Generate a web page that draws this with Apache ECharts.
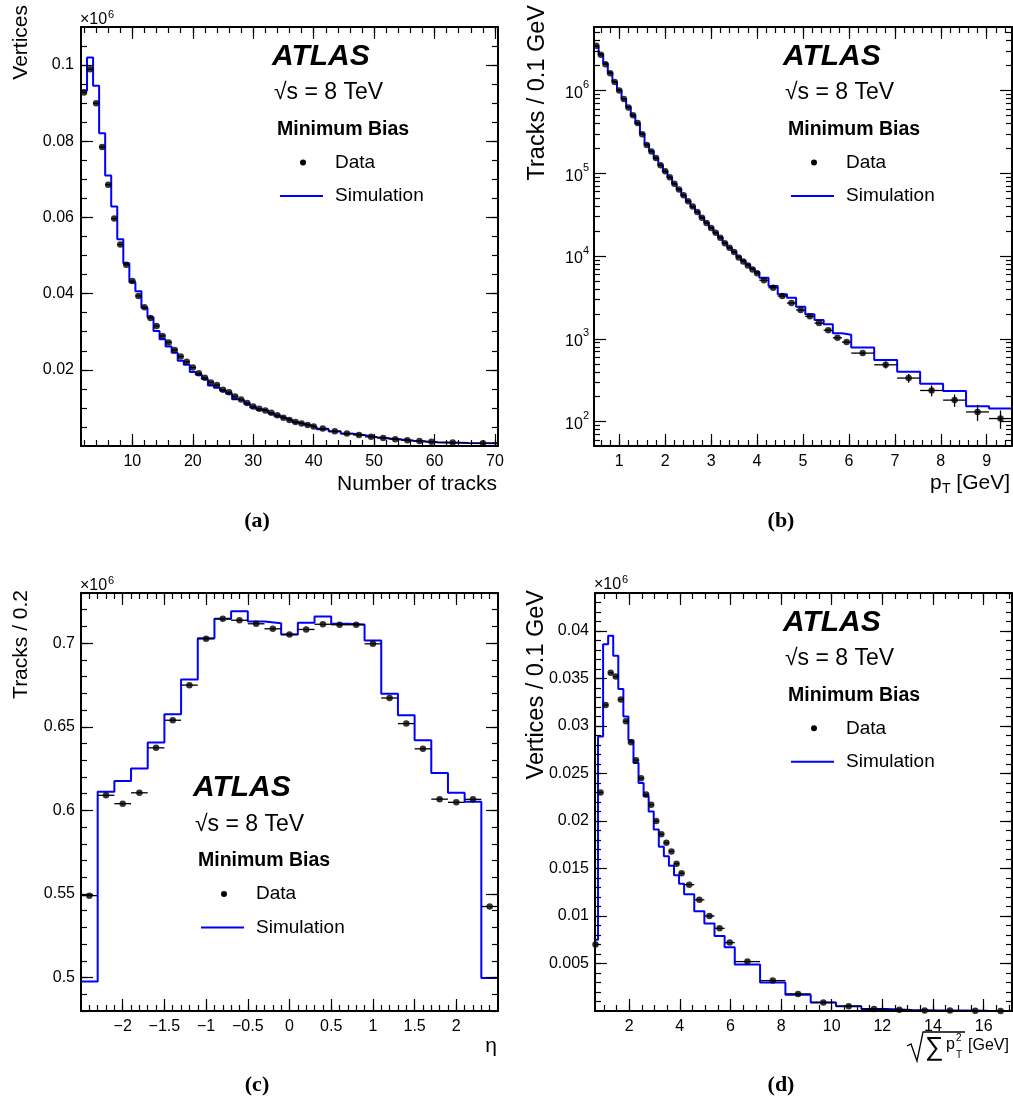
<!DOCTYPE html>
<html><head><meta charset="utf-8">
<script src="https://cdn.jsdelivr.net/npm/echarts@6/dist/echarts.min.js"></script>
<style>html,body{margin:0;padding:0;background:#fff}#c{width:1013px;height:1106px}</style>
</head><body><div id="c"></div>
<script>
// ---------------- Panel (a): number of tracks ----------------
const aEdges = [1.5,2.5,3.5,4.5,5.5,6.5,7.5,8.5,9.5,10.5,11.5,12.5,13.5,14.5,15.5,16.5,17.5,18.5,19.5,20.5,21.5,22.5,23.5,24.5,25.5,26.5,27.5,28.5,29.5,30.5,31.5,32.5,33.5,34.5,35.5,36.5,37.5,38.5,39.5,40.5,42.5,44.5,46.5,48.5,50.5,52.5,54.5,56.5,58.5,60.5,65.5,70.5];
const aData = [0.0928,0.0989,0.0900,0.0785,0.0686,0.0597,0.0529,0.0476,0.0433,0.0394,0.0364,0.0336,0.0315,0.0289,0.0272,0.0252,0.0235,0.0221,0.0206,0.0191,0.0179,0.0167,0.0160,0.0148,0.0141,0.0130,0.0122,0.0113,0.0104,0.0098,0.0093,0.0087,0.0081,0.0074,0.0068,0.0063,0.0059,0.0055,0.0051,0.0046,0.0039,0.0033,0.0029,0.0024,0.0021,0.0018,0.0015,0.0013,0.0011,0.0009,0.0007];
const aSim = [0.0933,0.1020,0.0946,0.0821,0.0710,0.0629,0.0543,0.0480,0.0430,0.0406,0.0363,0.0338,0.0302,0.0280,0.0261,0.0245,0.0224,0.0213,0.0194,0.0187,0.0176,0.0159,0.0153,0.0145,0.0137,0.0123,0.0120,0.0110,0.0101,0.0095,0.0093,0.0085,0.0078,0.0073,0.0068,0.0062,0.0058,0.0054,0.0050,0.0044,0.0038,0.0032,0.0028,0.0023,0.0020,0.0017,0.0014,0.0012,0.0010,0.0008,0.0007];
const aXTicks = [10,20,30,40,50,60,70];
const aYTicks = [0.02,0.04,0.06,0.08,0.1];

// ---------------- Panel (b): pT ----------------
const bEdges = [0.45,0.55,0.65,0.75,0.85,0.95,1.05,1.15,1.25,1.35,1.45,1.55,1.65,1.75,1.85,1.95,2.05,2.15,2.25,2.35,2.45,2.55,2.65,2.75,2.85,2.95,3.05,3.15,3.25,3.35,3.45,3.55,3.65,3.75,3.85,3.95,4.05,4.25,4.45,4.65,4.85,5.05,5.25,5.45,5.65,5.85,6.05,6.55,7.05,7.55,8.05,8.55,9.05,9.55];
const bData = [3.47e6,2.70e6,2.08e6,1.62e6,1.27e6,1.00e6,7.87e5,6.22e5,5.04e5,4.04e5,2.97e5,2.20e5,1.83e5,1.53e5,1.25e5,1.06e5,8.97e4,7.50e4,6.35e4,5.43e4,4.60e4,3.96e4,3.41e4,2.91e4,2.51e4,2.19e4,1.92e4,1.67e4,1.43e4,1.26e4,1.12e4,9.6e3,8.6e3,7.7e3,6.9e3,6.2e3,5.1e3,4.15e3,3.29e3,2.71e3,2.23e3,1.87e3,1.55e3,1.27e3,1.03e3,914,673,486,336,238,182,131,109];
const bSim = [3.45e6,2.75e6,2.12e6,1.65e6,1.28e6,1.01e6,7.9e5,6.3e5,5.0e5,4.0e5,3.0e5,2.22e5,1.84e5,1.52e5,1.25e5,1.05e5,8.9e4,7.5e4,6.4e4,5.4e4,4.6e4,3.95e4,3.4e4,2.92e4,2.52e4,2.2e4,1.92e4,1.68e4,1.44e4,1.27e4,1.13e4,9.8e3,8.8e3,7.9e3,7.1e3,6.4e3,5.48e3,4.35e3,3.47e3,3.14e3,2.44e3,1.98e3,1.69e3,1.50e3,1.17e3,1.12e3,789,555,400,287,234,154,144];
const bRelErr = [0,0,0,0,0,0,0,0,0,0,0,0,0,0,0,0,0,0,0,0,0,0,0,0,0,0,0,0,0,0,0,0,0,0,0,0,0,0,0,0,0,0,0,0,0,0,0.03,0.10,0.12,0.15,0.17,0.22,0.25];
const bXTicks = [1,2,3,4,5,6,7,8,9];
const bYTicks = [1e2,1e3,1e4,1e5,1e6];

// ---------------- Panel (c): eta ----------------
const cEdges = [-2.5,-2.3,-2.1,-1.9,-1.7,-1.5,-1.3,-1.1,-0.9,-0.7,-0.5,-0.3,-0.1,0.1,0.3,0.5,0.7,0.9,1.1,1.3,1.5,1.7,1.9,2.1,2.3,2.5];
const cData = [0.549,0.609,0.604,0.6105,0.6374,0.6539,0.6749,0.7026,0.7146,0.7137,0.7116,0.7086,0.7052,0.7082,0.7113,0.711,0.711,0.6996,0.6672,0.6519,0.6368,0.6067,0.6048,0.6066,0.5425];
const cSim = [0.4977,0.6111,0.6175,0.6250,0.6406,0.6575,0.6783,0.7030,0.7146,0.7191,0.7130,0.7119,0.7052,0.7122,0.7159,0.7116,0.7112,0.7016,0.6698,0.6569,0.6419,0.6224,0.6105,0.6051,0.4997];
const cXTicks = [-2,-1.5,-1,-0.5,0,0.5,1,1.5,2];
const cYTicks = [0.5,0.55,0.6,0.65,0.7];

// ---------------- Panel (d): sqrt(sum pT^2) ----------------
const dEdges = [0.57,0.77,0.97,1.17,1.37,1.57,1.77,1.97,2.17,2.37,2.57,2.77,2.97,3.17,3.37,3.57,3.77,3.97,4.17,4.57,4.97,5.37,5.77,6.17,7.17,8.17,9.17,10.17,11.17,12.17,13.17,14.17,15.17,16.17,17.17];
const dData = [0.0070,0.0230,0.0322,0.0356,0.0352,0.0328,0.0305,0.0283,0.0264,0.0245,0.0228,0.0217,0.0200,0.0186,0.0177,0.0168,0.0155,0.0145,0.0133,0.0117,0.0100,0.0087,0.0072,0.0052,0.0032,0.0018,0.0009,0.0005,0.0002,0.00012,0.00006,0.00004,0.00002,0.00001];
const dSim = [0.0075,0.0289,0.0386,0.0395,0.0374,0.0339,0.0310,0.0285,0.0261,0.0240,0.0226,0.0210,0.0191,0.0173,0.0163,0.0153,0.0143,0.0134,0.0123,0.0105,0.0092,0.0079,0.0067,0.0049,0.0030,0.0017,0.0009,0.0005,0.0002,0.0001,0.00006,0.00004,0.00002,0.00001];
const dXTicks = [2,4,6,8,10,12,14,16];
const dYTicks = [0.005,0.01,0.015,0.02,0.025,0.03,0.035,0.04];

// ---------------- helpers ----------------
const FF = '"Liberation Sans", Arial, Helvetica, sans-serif';
function rng(a, b, s) { const r = []; for (let v = a; v <= b + s * 1e-6; v += s) r.push(Math.round(v * 1e9) / 1e9); return r; }
function logMinor(lo, hi) { const r = []; for (let e = 1; e <= 6; e++) for (let m = 2; m <= 9; m++) { const v = m * Math.pow(10, e); if (v >= lo && v <= hi) r.push(v); } return r; }
const linFmt = v => String(+(+v).toPrecision(6)).replace('-', '\u2212');
const logFmt = v => '{b|10}{e|' + Math.round(Math.log10(v)) + '}';
const logRich = { b: { fontSize: 16, fontFamily: FF, color: '#000', lineHeight: 22, verticalAlign: 'bottom' },
                  e: { fontSize: 11, fontFamily: FF, color: '#000', lineHeight: 22, verticalAlign: 'top' } };

const panels = [
  { edges: aEdges, data: aData, sim: aSim, err: null, xr: [1.5, 70.5], yr: [0, 0.11], yType: 'value',
    xMaj: aXTicks, xMin: rng(2, 70, 2), yMaj: aYTicks, yMin: rng(0.005, 0.105, 0.005), yFmt: linFmt, yMargin: 7,
    grid: { left: 81, top: 27, width: 417, height: 419 } },
  { edges: bEdges, data: bData, sim: bSim, err: bRelErr, xr: [0.45, 9.55], yr: [50.8, 5.85e6], yType: 'log',
    xMaj: bXTicks, xMin: rng(0.6, 9.4, 0.2), yMaj: bYTicks, yMin: logMinor(50.8, 5.85e6), yFmt: logFmt, yRich: logRich, yMargin: 5,
    grid: { left: 594, top: 27, width: 418, height: 419 } },
  { edges: cEdges, data: cData, sim: cSim, err: null, xr: [-2.5, 2.5], yr: [0.48, 0.73], yType: 'value',
    xMaj: cXTicks, xMin: rng(-2.4, 2.4, 0.1), yMaj: cYTicks, yMin: rng(0.48, 0.73, 0.01), yFmt: linFmt, yMargin: 6,
    grid: { left: 81, top: 593, width: 417, height: 418 } },
  { edges: dEdges, data: dData, sim: dSim, err: null, xr: [0.65, 17.12], yr: [0, 0.044], yType: 'value',
    xMaj: dXTicks, xMin: rng(1, 17, 0.5), yMaj: dYTicks, yMin: rng(0.001, 0.044, 0.001), yFmt: linFmt, yMargin: 6,
    grid: { left: 595, top: 593, width: 417, height: 418 } }
];

function ax(gi, pos, r, type, ticks, len, labels, fmt, margin, line, rich) {
  const a = {
    type: type, gridIndex: gi, position: pos, min: r[0], max: r[1], silent: true, z: 5,
    axisLine: { show: line, onZero: false, lineStyle: { color: '#000', width: 2 } },
    axisTick: { show: true, inside: true, length: len, customValues: ticks, lineStyle: { color: '#000', width: 1.2 } },
    axisLabel: labels ? { show: true, customValues: labels, formatter: fmt, margin: margin, color: '#000', fontSize: 16, fontFamily: FF, rich: rich } : { show: false },
    splitLine: { show: false }, minorTick: { show: false }, minorSplitLine: { show: false }
  };
  if (type === 'log') a.logBase = 10;
  return a;
}

const xAxes = [], yAxes = [], series = [], grids = [];
panels.forEach((p, gi) => {
  grids.push(Object.assign({ containLabel: false, outerBoundsMode: 'none' }, p.grid));
  xAxes.push(ax(gi, 'bottom', p.xr, 'value', p.xMaj, 12, p.xMaj, linFmt, 8, true));
  xAxes.push(ax(gi, 'bottom', p.xr, 'value', p.xMin, 6, null, null, 0, false));
  xAxes.push(ax(gi, 'top', p.xr, 'value', p.xMaj, 12, null, null, 0, true));
  xAxes.push(ax(gi, 'top', p.xr, 'value', p.xMin, 6, null, null, 0, false));
  yAxes.push(ax(gi, 'left', p.yr, p.yType, p.yMaj, 12, p.yMaj, p.yFmt, p.yMargin, true, p.yRich));
  yAxes.push(ax(gi, 'left', p.yr, p.yType, p.yMin, 6, null, null, 0, false));
  yAxes.push(ax(gi, 'right', p.yr, p.yType, p.yMaj, 12, null, null, 0, true));
  yAxes.push(ax(gi, 'right', p.yr, p.yType, p.yMin, 6, null, null, 0, false));
  const xi = gi * 4, yi = gi * 4;
  const n = p.sim.length;
  const step = p.sim.map((v, i) => [p.edges[i], v]);
  step.push([p.edges[n], p.sim[n - 1]]);
  series.push({ type: 'line', xAxisIndex: xi, yAxisIndex: yi, step: 'end', data: step, symbol: 'none', showSymbol: false,
    lineStyle: { color: '#0000ff', width: 2 }, z: 2, silent: true, clip: true });
  const items = p.data.map((v, i) => {
    const lo = p.edges[i], hi = p.edges[i + 1], e = p.err ? p.err[i] * v : 0;
    return [(lo + hi) / 2, v, lo, hi, v - e, v + e];
  });
  series.push({ type: 'custom', xAxisIndex: xi, yAxisIndex: yi, data: items, encode: { x: 0, y: 1 }, clip: true, silent: true, z: 3,
    renderItem: function (params, api) {
      const y = api.value(1), xc = api.value(0);
      const p1 = api.coord([api.value(2), y]), p2 = api.coord([api.value(3), y]);
      const p3 = api.coord([xc, api.value(4)]), p4 = api.coord([xc, api.value(5)]);
      const st = { stroke: '#000', lineWidth: 1.3 };
      return { type: 'group', children: [
        { type: 'line', shape: { x1: p1[0], y1: p1[1], x2: p2[0], y2: p2[1] }, style: st },
        { type: 'line', shape: { x1: p3[0], y1: p3[1], x2: p4[0], y2: p4[1] }, style: st }
      ] };
    } });
  series.push({ type: 'scatter', xAxisIndex: xi, yAxisIndex: yi, data: items.map(d => [d[0], d[1]]), symbol: 'circle', symbolSize: 6.5,
    itemStyle: { color: '#000' }, z: 4, silent: true });
});

// ---------------- annotations ----------------
function T(x, y, s, font, align, extra) {
  return Object.assign({ type: 'text', x: x, y: y, silent: true, z: 20,
    style: { text: s, font: font, fill: '#000', align: align || 'left', textAlign: align || 'left', verticalAlign: 'middle', textVerticalAlign: 'middle' } }, extra || {});
}
const G = [];
function legendBlock(x0, yA) {
  G.push(T(x0, yA, 'ATLAS', 'italic bold 30px ' + FF));
  G.push(T(x0 + 2, yA + 36.5, '\u221As = 8 TeV', '23px ' + FF));
  G.push(T(x0 + 5, yA + 73, 'Minimum Bias', 'bold 19.5px ' + FF));
  G.push({ type: 'circle', silent: true, z: 20, shape: { cx: x0 + 31, cy: yA + 106, r: 3 }, style: { fill: '#000' } });
  G.push(T(x0 + 63, yA + 106, 'Data', '19px ' + FF));
  G.push({ type: 'line', silent: true, z: 20, shape: { x1: x0 + 8, y1: yA + 139.5, x2: x0 + 51, y2: yA + 139.5 }, style: { stroke: '#0000ff', lineWidth: 2 } });
  G.push(T(x0 + 63, yA + 139.5, 'Simulation', '19px ' + FF));
}
legendBlock(272, 56.5);
legendBlock(783, 56.5);
legendBlock(193, 788);
legendBlock(783, 622.3);

function times10(x, y) {
  G.push(T(x, y, '\u00D710', '16px ' + FF));
  G.push(T(x + 28, y - 5, '6', '11px ' + FF));
}
times10(80, 20);
times10(80, 586);
times10(594, 585);

// y titles (rotated)
const rot = { rotation: Math.PI / 2 };
G.push(T(21, 5, 'Vertices', '21px ' + FF, 'right', rot));
G.push(T(538, 5, 'Tracks / 0.1 GeV', '23.5px ' + FF, 'right', rot));
G.push(T(21, 590, 'Tracks / 0.2', '21px ' + FF, 'right', rot));
G.push(T(537, 590, 'Vertices / 0.1 GeV', '23.5px ' + FF, 'right', rot));

// x titles
G.push(T(497, 484, 'Number of tracks', '21px ' + FF, 'right'));
G.push(T(930, 483, 'p', '21px ' + FF));
G.push(T(942, 489, 'T', '14px ' + FF));
G.push(T(1010, 483, '[GeV]', '21px ' + FF, 'right'));
G.push(T(497, 1046, '\u03B7', '21px ' + FF, 'right'));
G.push({ type: 'polyline', silent: true, z: 20, shape: { points: [[907, 1046], [911, 1044], [917, 1061], [923, 1032], [965, 1032]] }, style: { stroke: '#000', lineWidth: 1.3, fill: null } });
G.push(T(925, 1048, '\u2211', '26px ' + FF));
G.push(T(946, 1045, 'p', '16px ' + FF));
G.push(T(956, 1038, '2', '10px ' + FF));
G.push(T(956, 1055, 'T', '10px ' + FF));
G.push(T(968, 1046, '[GeV]', '16px ' + FF));

// panel letters
const PF = 'bold 22px "Liberation Serif", "Times New Roman", serif';
G.push(T(257, 521, '(a)', PF, 'center'));
G.push(T(781, 521, '(b)', PF, 'center'));
G.push(T(257, 1085, '(c)', PF, 'center'));
G.push(T(781, 1085, '(d)', PF, 'center'));

const chart = echarts.init(document.getElementById('c'), null, { renderer: 'canvas' });
chart.setOption({
  animation: false,
  backgroundColor: '#fff',
  textStyle: { fontFamily: FF },
  grid: grids,
  xAxis: xAxes,
  yAxis: yAxes,
  series: series,
  graphic: { elements: G }
});
</script></body></html>
